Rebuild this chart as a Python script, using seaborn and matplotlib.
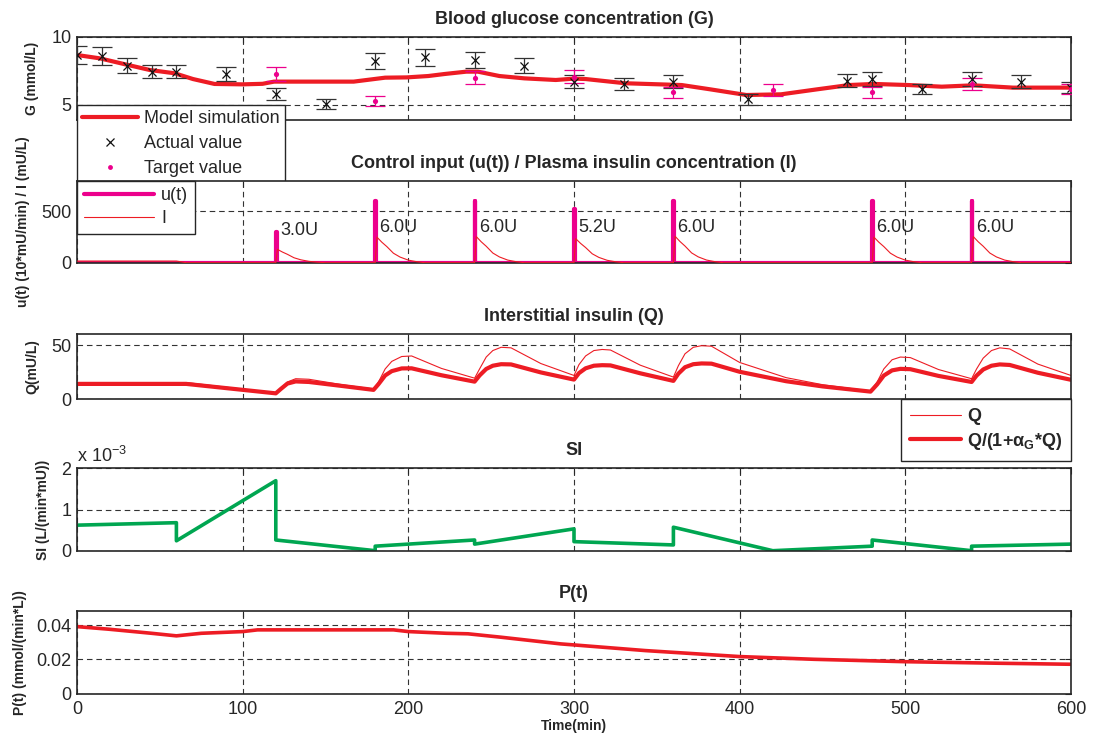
import matplotlib
matplotlib.use("Agg")
import matplotlib.pyplot as plt
import seaborn as sns
from matplotlib.lines import Line2D
from matplotlib.ticker import FuncFormatter

# ---------------- data ----------------
# Panel 1: blood glucose (mmol/L)
sim_t = [0, 14, 29, 44, 59, 70, 83, 100, 112, 119, 141, 167, 186, 199, 212, 222, 235, 242,
         255, 270, 289, 300, 307, 331, 365, 382, 404, 425, 447, 466, 481, 502, 522, 541, 565, 600]
sim_G = [8.66, 8.41, 7.98, 7.56, 7.32, 6.90, 6.54, 6.51, 6.55, 6.71, 6.71, 6.71, 7.00, 7.02, 7.12,
         7.27, 7.44, 7.44, 7.12, 6.95, 6.83, 6.93, 6.90, 6.59, 6.46, 6.15, 5.73, 5.78, 6.15, 6.46,
         6.54, 6.46, 6.34, 6.44, 6.27, 6.27]

act_t = [0, 15, 30, 45, 60, 90, 120, 150, 180, 210, 240, 270, 300, 330, 360, 405, 465, 480,
         510, 540, 570, 600]
act_G = [8.66, 8.59, 7.88, 7.44, 7.44, 7.27, 5.80, 5.07, 8.22, 8.49, 8.30, 7.88, 6.70, 6.51,
         6.71, 5.41, 6.78, 6.90, 6.17, 6.90, 6.71, 6.27]
act_err = [0.63, 0.65, 0.56, 0.49, 0.49, 0.52, 0.41, 0.39, 0.57, 0.60, 0.60, 0.56, 0.47, 0.44,
           0.46, 0.40, 0.46, 0.50, 0.40, 0.49, 0.46, 0.42]

tgt_t = [120, 180, 240, 300, 360, 420, 480, 540, 600]
tgt_G = [7.27, 5.29, 7.00, 7.07, 5.93, 6.10, 5.93, 6.51, 6.17]
tgt_err = [0.50, 0.40, 0.49, 0.48, 0.40, 0.45, 0.42, 0.43, 0.35]

# Panel 2: boluses, u(t) (10*mU/min) and plasma insulin I (mU/L)
bolus_t = [120, 180, 240, 300, 360, 480, 540]
bolus_U = [3.0, 6.0, 6.0, 5.2, 6.0, 6.0, 6.0]
u_peak = [300, 600, 600, 520, 600, 600, 600]
I_peak = [130, 250, 255, 235, 258, 250, 255]
I_basal_t = [0, 60, 66]
I_basal_v = [16, 16, 0]
I_decay_dt = [1, 4, 7, 11, 15, 20, 25, 30]
I_decay_frac = [1.0, 0.80, 0.63, 0.37, 0.22, 0.10, 0.04, 0.0]

# Panel 3: interstitial insulin
Q_t = [0, 66, 120, 123, 127, 132, 140, 160, 179,
       182, 186, 190, 196, 202, 220, 240,
       243, 247, 251, 256, 262, 280, 300,
       303, 307, 312, 317, 322, 340, 360,
       363, 367, 372, 377, 383, 400, 428, 450, 479,
       483, 487, 492, 497, 503, 520, 540,
       543, 547, 552, 557, 563, 580, 600]
Q_v = [15.5, 15.5, 5.8, 10, 16, 19, 18.5, 13.5, 9.5,
       16, 28, 35, 39.5, 40, 28.5, 19.5,
       28, 39, 45, 48, 47.5, 33, 22,
       32, 40, 45, 46, 45.5, 31.5, 20.5,
       31, 42, 48, 49.5, 49, 34, 20, 13.5, 7.6,
       16, 28, 36.5, 39, 38.5, 27.5, 19,
       28, 38, 45, 47.5, 46.5, 32.5, 22]
Qs_v = [14.2, 14.2, 5.5, 9.5, 14.5, 16.5, 16, 12.3, 8.7,
        14, 22, 26, 28.5, 28.6, 22.2, 16.3,
        22, 28, 31, 32.4, 32.2, 24.8, 18.2,
        24.2, 28.6, 31, 31.5, 31.3, 24, 17,
        23.7, 29.6, 32.4, 33.1, 32.9, 25.4, 16.7, 11.9, 7.1,
        13.8, 21.9, 26.7, 28.1, 27.8, 21.6, 16,
        21.9, 27.5, 31, 32.2, 31.7, 24.5, 18]

# Panel 4: insulin sensitivity SI (L/(min*mU))
SI_t = [0, 60, 60, 120, 120, 180, 180, 240, 240, 300, 300, 360, 360, 420, 480, 480, 540, 540, 600]
SI_v = [0.62e-3, 0.68e-3, 0.24e-3, 1.70e-3, 0.26e-3, 0.0, 0.11e-3, 0.26e-3, 0.16e-3, 0.53e-3,
        0.22e-3, 0.14e-3, 0.57e-3, 0.0, 0.11e-3, 0.26e-3, 0.0, 0.11e-3, 0.16e-3]

# Panel 5: P(t) (mmol/(min*L))
P_t = [0, 19, 45, 60, 75, 100, 109, 191, 200, 223, 236, 256, 280, 292, 300, 343, 400, 445,
       500, 556, 600]
P_v = [0.0392, 0.0377, 0.0353, 0.0338, 0.0353, 0.0363, 0.0373, 0.0373, 0.0363, 0.0353, 0.0350,
       0.0330, 0.0304, 0.0291, 0.0285, 0.0252, 0.0217, 0.0201, 0.0187, 0.0178, 0.0172]

x_ticks = [0, 100, 200, 300, 400, 500, 600]

# ---------------- style ----------------
sns.set_theme(style="white")
plt.rcParams['font.family'] = ['Liberation Sans', 'DejaVu Sans']
plt.rcParams['mathtext.fontset'] = 'custom'
plt.rcParams['mathtext.rm'] = 'Liberation Sans'
plt.rcParams['mathtext.bf'] = 'Liberation Sans:bold'
plt.rcParams['mathtext.it'] = 'Liberation Sans:italic'

DARK = '#262626'
RED = '#ed1c24'
MAG = '#ec008c'
GREEN = '#00a651'

W, H = 1093, 742
fig = plt.figure(figsize=(W / 100, H / 100), dpi=100)


def add_ax(top, bottom, left=77, right=1071):
    return fig.add_axes([left / W, 1 - bottom / H, (right - left) / W, (bottom - top) / H])


ax1 = add_ax(36.7, 120)
ax2 = add_ax(180.7, 262.7)
ax3 = add_ax(334.3, 399.3)
ax4 = add_ax(468.3, 550.7)
ax5 = add_ax(610.7, 693.7)


def style(ax, ylim, yticks, ylabel, title, label_right_px, xlabels=False):
    ax.set_xlim(0, 600)
    ax.set_ylim(*ylim)
    ax.set_xticks(x_ticks)
    ax.set_yticks(yticks)
    ax.grid(True, linestyle=(0, (5, 3.5)), color='#333333', linewidth=0.8)
    ax.set_axisbelow(True)
    for s in ax.spines.values():
        s.set_color(DARK)
        s.set_linewidth(1.2)
    ax.tick_params(direction='in', length=4, width=0.8, colors=DARK, labelcolor=DARK,
                   labelsize=13, top=True, right=True, pad=4)
    ax.tick_params(axis='x', pad=5)
    if not xlabels:
        ax.tick_params(labelbottom=False)
    ax.set_title(title, fontsize=13, fontweight='bold', color=DARK, pad=9.3)
    ax.set_ylabel(ylabel, fontsize=10, fontweight='bold', color=DARK)
    ax.yaxis.set_label_coords((label_right_px - 77) / 994, 0.5)


def frame(leg):
    leg.get_frame().set_linewidth(1.0)
    for t in leg.get_texts():
        t.set_color(DARK)


# ---- Panel 1 ----
sns.lineplot(x=sim_t, y=sim_G, ax=ax1, color=RED, lw=3, estimator=None, sort=False)
ax1.errorbar(act_t, act_G, yerr=act_err, fmt='none', ecolor='#333333', elinewidth=0.9,
             capsize=7, capthick=0.9, zorder=3)
sns.scatterplot(x=act_t, y=act_G, ax=ax1, marker='x', color='#111111', s=34, linewidth=0.9,
                zorder=4)
ax1.errorbar(tgt_t, tgt_G, yerr=tgt_err, fmt='none', ecolor=MAG, elinewidth=0.9,
             capsize=7, capthick=0.9, zorder=3)
sns.scatterplot(x=tgt_t, y=tgt_G, ax=ax1, marker='o', color=MAG, s=14, linewidth=0, zorder=4)
style(ax1, (3.9, 10), [5, 10], 'G (mmol/L)', 'Blood glucose concentration (G)', 39)
h1 = [Line2D([], [], color=RED, lw=3),
      Line2D([], [], ls='none', marker='x', color='#111111', ms=6, mew=0.9),
      Line2D([], [], ls='none', marker='o', color=MAG, ms=3.5, mew=0)]
leg1 = ax1.legend(h1, ['Model simulation', 'Actual value', 'Target value'], loc='upper left',
                  bbox_to_anchor=(0, (5 - 3.9) / 6.1), borderaxespad=0, fontsize=13,
                  frameon=True, fancybox=False, framealpha=1, edgecolor=DARK,
                  handlelength=3.1, labelspacing=0.44, borderpad=0.28, handletextpad=0.35)
frame(leg1)

# ---- Panel 2 ----
u_t, u_v = [0], [0]
I_t, I_v = list(I_basal_t), list(I_basal_v)
for tb, up, ip in zip(bolus_t, u_peak, I_peak):
    u_t += [tb, tb, tb + 0.5, tb + 0.5]
    u_v += [0, up, up, 0]
    I_t += [tb]
    I_v += [0]
    I_t += [tb + d for d in I_decay_dt]
    I_v += [ip * f for f in I_decay_frac]
u_t.append(600)
u_v.append(0)
I_t.append(600)
I_v.append(0)
sns.lineplot(x=I_t, y=I_v, ax=ax2, color=RED, lw=0.8, estimator=None, sort=False, zorder=3)
sns.lineplot(x=u_t, y=u_v, ax=ax2, color=MAG, lw=3, estimator=None, sort=False, zorder=2)
for tb, up, U in zip(bolus_t, u_peak, bolus_U):
    ly = 340 if up > 400 else up + 15
    ax2.text(tb + 2.5, ly, f'{U:.1f}U', fontsize=13, color=DARK, va='center', ha='left')
style(ax2, (0, 800), [0, 500], 'u(t) (10*mU/min) / I (mU/L)',
      'Control input (u(t)) / Plasma insulin concentration (I)', 30)
h2 = [Line2D([], [], color=MAG, lw=3), Line2D([], [], color=RED, lw=0.8)]
leg2 = ax2.legend(h2, ['u(t)', 'I'], loc='upper left', bbox_to_anchor=(0, 1), borderaxespad=0,
                  fontsize=13, frameon=True, fancybox=False, framealpha=1, edgecolor=DARK,
                  handlelength=3.9, labelspacing=0.33, borderpad=0.36, handletextpad=0.4)
frame(leg2)

# ---- Panel 3 ----
sns.lineplot(x=Q_t, y=Q_v, ax=ax3, color=RED, lw=0.8, estimator=None, sort=False)
sns.lineplot(x=Q_t, y=Qs_v, ax=ax3, color=RED, lw=3, estimator=None, sort=False)
style(ax3, (0, 60), [0, 50], 'Q(mU/L)', 'Interstitial insulin (Q)', 39)
h3 = [Line2D([], [], color=RED, lw=0.8), Line2D([], [], color=RED, lw=3)]
leg3 = ax3.legend(h3, ['Q', 'Q/(1+α$_\\mathbf{G}$*Q)'], loc='upper right', bbox_to_anchor=(1, 0),
                  borderaxespad=0, prop={'size': 13, 'weight': 'bold'}, frameon=True,
                  fancybox=False, framealpha=1, edgecolor=DARK, handlelength=2.8,
                  labelspacing=0.3, borderpad=0.5, handletextpad=0.35)
frame(leg3)

# ---- Panel 4 ----
sns.lineplot(x=SI_t, y=SI_v, ax=ax4, color=GREEN, lw=2.6, estimator=None, sort=False)
style(ax4, (0, 2e-3), [0, 1e-3, 2e-3], 'SI (L/(min*mU))', 'SI', 50)
ax4.yaxis.set_major_formatter(FuncFormatter(lambda v, p: f'{v * 1e3:g}'))
ax4.text(0.0, 1.03, 'x 10$^{-3}$', transform=ax4.transAxes, fontsize=13, color=DARK,
         ha='left', va='bottom')

# ---- Panel 5 ----
sns.lineplot(x=P_t, y=P_v, ax=ax5, color=RED, lw=2.6, estimator=None, sort=False)
style(ax5, (0, 0.0485), [0, 0.02, 0.04], 'P(t) (mmol/(min*L))', 'P(t)', 27, xlabels=True)
ax5.yaxis.set_major_formatter(FuncFormatter(lambda v, p: f'{v:g}'))
ax5.set_xlabel('Time(min)', fontsize=10, fontweight='bold', color=DARK, labelpad=1)

fig.savefig('out.png', dpi=100)
